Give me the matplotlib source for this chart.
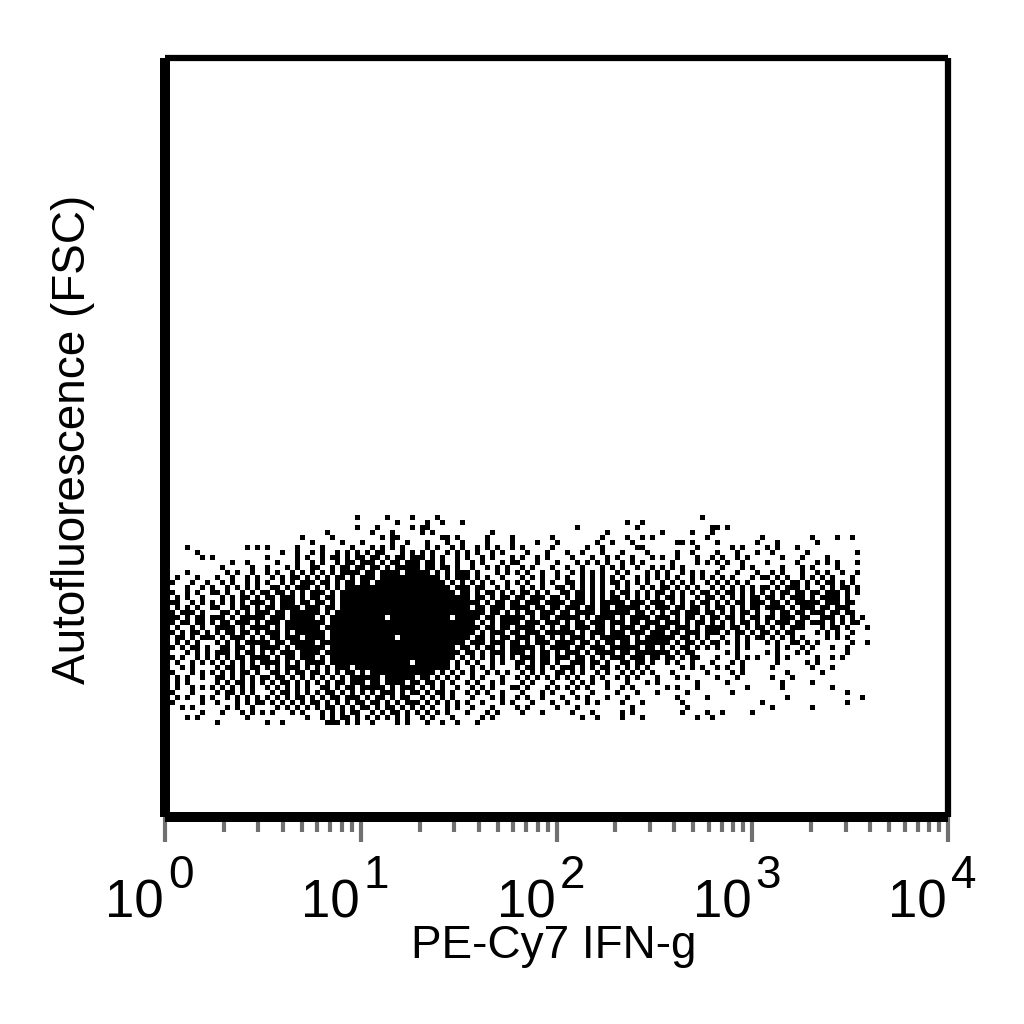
"""
Flow cytometry dot plot: PE-Cy7 IFN-g against autofluorescence (FSC).
Events are kept as a hand-read table of channel cells, '#' means the cell is inked.
x channels are log, 195.75 channels per decade.
"""

import numpy as np
import matplotlib.pyplot as plt
from matplotlib.ticker import LogLocator, NullFormatter

plt.rcParams['font.family'] = ['Liberation Sans', 'DejaVu Sans']

CHANNELS_PER_DECADE = 195.75
cell_size = 5
top_channel = 302

# one row per 5 channels from the top, spaces only group the columns in tens
event_rows = [
    ".......... .......... .......... ........#. ....#....# ....#..... .......... .......... .......... .......... .......#.. .......... .......... .......... ...",
    ".......... .......... .......... .......... ......#... ..#..#...# .......... .......... .......... ..#..#.... .......... .......... .......... .......... ...",
    ".......... .......... .......... ........#. ..#......# .##....... .......... .......... ..#....... ....#..... .........# #.#....... .......... .......... ...",
    ".......... .......... .......... ..#....... .#...#.... .#.#...... .....#.... .......... ........#. .........# .....#...# .......... .......... .......... ...",
    ".......... .......... .......#.. ...#...... ...#.##... .....##.#. ....#....# .......#.. .......#.. ..#..#.#.. ........#. .........# .........# ....#..#.. ...",
    ".......... .......... .........# .....#...# .....#..#. ..#...#..# ....#....# ....#...#. ......#..# ...#...... ..##.#.... #.......#. ..#....... #......... ...",
    "....#..... ......#.#. #.....#... .#.....#.. .#.#.#.#.. ..#.#..#.# ..#.#.#..# .#.....#.. ....#..#.. ....##.... ......#... ...#.#.... #.#...#... .......... ...",
    "......#... .......... ...#..#..# .#..#.#.#. #.##...#.# .#.#..#.#. #.#..#.#.. ..#...#... #..#...#.. .#....#... ..#..#.... #...#...#. .#......#. ........#. ...",
    ".......#.# .......... #.....#.#. .#.##.#.## .##.#.##.# ##.#.#..#. #..#.#...# .#..#.#... .#...#..#. #..#...#.# ..#...#..# .#..#.#... ...#...#.. ..#....... ...",
    ".......... ...#..#... ..#...#..# .#..#.##.# ##.#.##.## #.##.#..#. .#.#...#.# #...#...#. ..#.#.#.#. .#.#.#.... .#....#.#. #.#..#.... #.....#... #.#.#...#. ...",
    ".......... .#.....#.. #...#.#..# #..#.##.## .##.#.#### #.##.##.#. .#..#.#.#. .#.#...#.. #..#...#.# .#..#..#.# .#.#...... .#...#.#.. ...#...#.# ....#..... ...",
    "....#..... ..#.#..#.. #.#..#.#.# .#.#.####. ##.####.## ###.#.#.## #.#...#.#. #.#..#..#. .#.#.#.#.. #.#...#.#. #..#.#.#.. #...#...#. .#.#...#.. #.#..#..#. ...",
    "..#...#... #..#..#.#. .#.#.##.#. #.#.##.#.# ##.####### #####.#.## #.#.#..#.. .#.#.#..#. #..#.#.#.# .#..#.#.#. #.#..#.#.# .#.#...#.# #.#.#..#.# .#.#...#.. ...",
    ".#...#..#. .#.#..#.#. #..#.#.### .##.#.##.# #.######## ######.#.# .#.#.#..#. #.#..#.#.. ##.#.#.#.# #.#.#.#..# .#.#.#..#. #.#.#.#... .#.#.##.#. #.##.#.#.. ...",
    "#...#..#.# ..#.#.#.#. .##.#.###. #.#.#.#### ########## #######.## #.##..#.#. .#.#.#..## .#.#.#.#.. #.#..#.#.# #.#.#.#..# .#.#.#.#.# #.#.###.#. .#.#.##.#. ...",
    ".#..#.#..# #.#..#.#.# #.##.#.#.# ##.#.##### ########## ########.# #.#.##.#.# .##.#.#..# #.##.#.#.# .##.#.#.## .#.#.#.##. #.##.#.#.# .#.##.##.# #.###.#.#. ...",
    "#.#.#..#.. .#.#.##.#. ##.###.#.# #.##.##### ########## ########## #.##.#.##. ##.###.##. #.##.#.#.# #.#.#.#.#. ##.#..#.## .#.#.#.##. ##.#.###.# .####.#... ...",
    ".##..#.#.# .#.#.#.### .#.###.##. ##.#.##### ########## ########## ###.#.##.# #.###.#### .###.#.### ##.###.### .#.#.#.##. #.#.##.### .##.#.#### #.###.##.. ...",
    "#.#.#.#..# #..#.##.#. ##.####.## #.##.##### ########## ########## #.##.###.# ###.##.##. ###.##.##. #####.#.## #.##.##.#. ##.#.#.##. ####.#.### .##.###... ...",
    ".#.###.#.. .##.#.#.## #.##.##### #.#.###### ########## ########## ####.##.#. #.##.###.# #.####.### ###.##.#.# .##.###.## .#.#.##.#. .#.##.##.# ##.##.##.. ...",
    "###.#.##.# ##.#.##### .###.##### .#.####### ####.##### #######.## ###.##.### ##.#.##.## ###.#.#### .#.####.## #.#.##.#.# #.##.#.##. ##.###.##. .###.#.#.# ...",
    "##.##.##.# .##.###.#. ###.###### ##.####### ########## ########## ##.#.#.### #.###.###. #.##.###.# ##.##.###. ###.#.##.# .#.#.##.#. #.###.##.# ##.#.#.##. ...",
    "#.#..#.#.. ####.#.### #.#.###### #.######## ########## ########## ###.##.##. ####.#.#.# #.###.##.# .###.##.## #.###.#.## ##.##.#.## .#.#.###.. .#.##.#... #..",
    ".#.#.##.#. #.##.##.#. ###.#.#### ##.####### ########## ########## ##.#.###.# #.###.#### ##.#.###.# ##.###.### .##.###.## #.#.##.#.# #.#.##.... #.#.#..#.. ...",
    "..##.#.### .#.###.#.# .##.###.## ##.####### ######.### ########## #.##.#.##. ###.##.#.# .###.#.### ###.#.#### ##.##.#.#. .#..#.#.## .#.#.#.#.. ..#.#.#... ...",
    "#.#.#.#... #.#.#.#### #.##.##### .######### ########## ########## .###.###.# #.#.###.## ##.##.#.## .##.###### #.#.##.#.# #.#.#.#... #.#..##.#. #......#.. #..",
    ".#.#.##.#. .##.##.#.# ###.#.#### ##.####### ########## ########.# #.#.##.#.# ####.#.### #.##.###.# #####.##.# .#.##.#.#. #...#.#... ..#.#..#.# ...#..#... ...",
    "#...#.#.#. ###.#.##.# .#.###.### #.######## ########## #########. ##.#.###.# ##.#.##.#. ###.#.#### .##.###### #.#.##.... ..#.#..... #.#...#.#. ......#... ...",
    ".#.#..#.#. #.#.##.### #.#.##.### .#.####### ########## ########.# .#.#.#.#.# .###.##.## #.##.#.#.# ##.###.##. ##.#.##... #...#.#.#. ..#.#..... #..#.#.... ...",
    "..#..#.#.# .#.#.#.#.# ###.#.#.## ##.####### #########. #######.#. #.#..#.#.. ##.#.##.#. .###.##.#. .##.##.#.. #.#..#...# ...#.#.... ..#.....#. #......... ...",
    "#..#.#.... #.##.#.##. #.#.###.#. #.#.###.## ########## #######.#. .#.#.#.... #.##.#.#.# ##.#.#.##. #.#.#.#... ...#.#.#.. #.#..#.... .#.......# ...#...... ...",
    ".#...#.#.# .#.#.##.#. .##.#.##.# #.#.#.##.# .######### ####.#.#.# .#..#.#.#. .#.#.#..## .#.#..#.#. .#.#.#.#.. .#......#. ...#.#.... ....#..... .#........ ...",
    "..#.#..#.. ##.#.#.#.# #.##.#.#.# .#.#.#.### ###.###### .##.#.#.#. .#.#...#.. #.#.#.#.#. #.#..#.#.. #.#.#...#. ..#.#..... #...#..... .#...#.... .......... ...",
    "#.#.#..... #.#.##.#.# .#.##.#.#. #.#.##.### .##.####.# #.##.#.#.. #.#..#.#.. .#.#...#.. .#.#.#..#. ..#...#.#. ......#... ..#....... ...#.....# .......... ...",
    "..#..#.#.# .#.#.#.#.. #.#.#.#.#. .##.#.##.# ####.#.### .#.#.#..#. .#.#.#...# #.#...#.#. #.#.#...#. .#.#...... #.#...#... ......#... ...#...... ...#...... ...",
    ".#...#.... #.##.#.#.. .#.##.#.#. #.##.#.#.# .#.###.#.# #.#.##.#.. #.#.#..#.. .#...#.#.. .#...#.... #...#...#. ....#..... ...#...... .......... ......#... ...",
    "..#.#..#.# ..#.#.#.#. #.#.#.##.# .#.##.###. #.##.#.##. .#.#.#.#.. .#...#.#.. #.#..#...# ..#.#...#. ..#....... ..#.....#. .......... ....#..... .........# ...",
    ".#.....#.. #...#.#.## .#.#.#.#.# #.#.#.#.## .##.#.#.## #.#.#.#.#. #..#...#.# ...#...#.. #...#.#... .#...#.... ...#...... .........# .......... ......#... ...",
    "...#.#.... ..#.#..#.. ..#.#.#.#. #.##.#.#.# #.#.##.#.# .#.#..#.#. .#...#.... #.#.....#. ..#....... ...#...... ....#..... .......... .#.......# .......... ...",
    ".......#.. .#...#.#.# .#...#.#.. .#.#.#.##. .#.#.##.#. #.#.#.#... #...#.#... .#...#.... .#...#.... .#.#...... ...#....#. .#.....#.. .......... .......... ...",
    "....#.#... ......#... ........#. .#.#.##.#. #.#.#.#.#. .#.#...#.. ...#.#.... .......... ...#..#... .#...#.... ......#..# .......... .......... .......... ...",
    ".......... #......... #..#...... ..###.#.#. .#....#.#. ..#..#..#. ..#....... .......... .......... .......... .......... .......... .......... .......... ...",
]


def channel_to_value(channel):
    return 10 ** (np.asarray(channel, dtype=float) / CHANNELS_PER_DECADE)


def main():
    rows = [row.replace(' ', '') for row in event_rows]
    inked = np.array([[c == '#' for c in row] for row in rows], dtype=float)
    n_rows, n_cols = inked.shape
    x_edges = channel_to_value(cell_size * np.arange(n_cols + 1))
    y_edges = top_channel - cell_size * np.arange(n_rows + 1)

    fig = plt.figure(figsize=(10.24, 10.24), dpi=100)
    ax = fig.add_axes([165 / 1024, 1 - 817 / 1024, (948 - 165) / 1024, (817 - 58) / 1024])

    ax.pcolormesh(x_edges, y_edges, inked, cmap='gray_r', vmin=0, vmax=1,
                  shading='flat', antialiased=False, zorder=1)

    ax.set_xscale('log')
    ax.set_xlim(1, 1e4)
    ax.set_ylim(0, 759)
    ax.set_yticks([])

    ax.xaxis.set_major_locator(LogLocator(base=10, numticks=6))
    ax.xaxis.set_minor_locator(LogLocator(base=10, subs=np.arange(2, 10), numticks=6))
    ax.xaxis.set_major_formatter(NullFormatter())
    ax.xaxis.set_minor_formatter(NullFormatter())
    ax.tick_params(axis='x', which='major', length=18, width=3, color='#707070')
    ax.tick_params(axis='x', which='minor', length=11, width=3, color='#707070')

    for side, width in [('left', 7.2), ('bottom', 7.2), ('top', 4.5), ('right', 4.5)]:
        ax.spines[side].set_linewidth(width)
        ax.spines[side].set_capstyle('butt')

    # tick labels are drawn as two texts, the exponent is a raised smaller digit
    to_axis = ax.get_xaxis_transform()
    for exponent in range(5):
        value = 10.0 ** exponent
        ax.annotate('10', (value, 0), xycoords=to_axis, xytext=(-1, -100),
                    textcoords='offset pixels', ha='right', va='baseline', fontsize=38,
                    annotation_clip=False)
        ax.annotate(str(exponent), (value, 0), xycoords=to_axis, xytext=(3, -71),
                    textcoords='offset pixels', ha='left', va='baseline', fontsize=33,
                    annotation_clip=False)

    fig.text(554 / 1024, 1 - 958 / 1024, 'PE-Cy7 IFN-g', fontsize=33, ha='center', va='baseline')
    fig.text(85 / 1024, 1 - 439 / 1024, 'Autofluorescence (FSC)', fontsize=33, rotation=90,
             ha='center', va='baseline', rotation_mode='anchor')

    fig.savefig('out.png', dpi=100)
    plt.close(fig)


if __name__ == '__main__':
    main()
